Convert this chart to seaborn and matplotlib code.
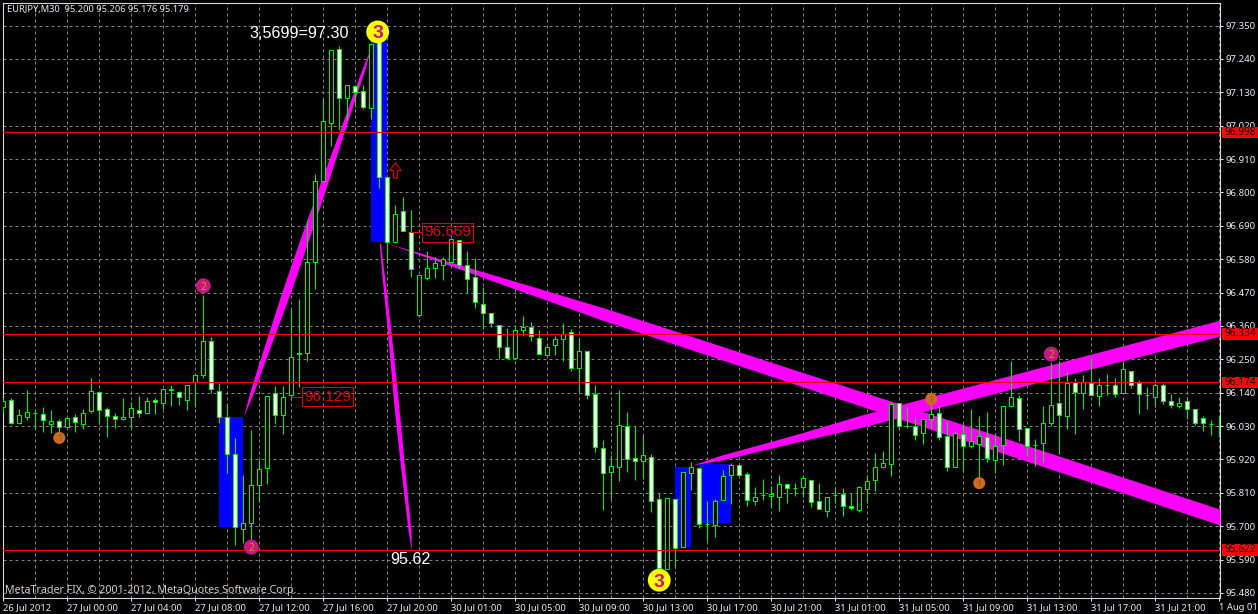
import numpy as np
import matplotlib
matplotlib.use("Agg")
import matplotlib.pyplot as plt
from matplotlib.patches import Rectangle
import seaborn as sns

# candles, one entry per 30 minute bar
high_p = [96.122,96.122,96.086,96.149,96.083,96.093,96.083,96.053,96.060,96.070,96.086,96.187,96.142,96.093,96.073,96.122,96.109,96.129,96.125,96.122,
          96.151,96.164,96.145,96.164,96.197,96.461,96.322,96.171,96.103,95.991,95.869,96.017,95.918,96.129,96.161,96.161,96.415,96.448,96.709,96.861,
          97.108,97.269,97.282,97.154,97.154,97.154,97.289,97.325,96.851,96.759,96.785,96.742,96.527,96.606,96.587,96.587,96.646,96.643,96.606,96.583,
          96.487,96.402,96.362,96.352,96.355,96.392,96.372,96.345,96.299,96.326,96.369,96.349,96.319,96.279,96.164,95.984,95.935,96.149,96.076,96.030,
          96.001,95.938,95.810,95.793,95.790,95.879,95.912,95.892,95.783,95.790,95.885,95.909,95.909,95.879,95.829,95.856,95.833,95.869,95.839,95.843,
          95.866,95.852,95.843,95.796,95.829,95.826,95.810,95.833,95.869,95.941,95.948,96.109,96.106,96.093,96.057,96.053,96.116,96.096,96.047,96.011,
          96.040,96.086,96.063,96.076,96.007,96.096,96.243,96.132,96.024,95.988,96.096,96.240,96.246,96.207,96.190,96.197,96.253,96.190,96.200,96.187,
          96.246,96.213,96.181,96.158,96.171,96.171,96.135,96.125,96.125,96.086,96.063,96.050,96.063]
open_p = [96.093,96.116,96.040,96.060,96.073,96.070,96.037,96.047,96.027,96.060,96.037,96.080,96.142,96.086,96.063,96.053,96.060,96.083,96.073,96.116,
          96.106,96.151,96.142,96.116,96.174,96.197,96.309,96.145,96.060,95.938,95.691,95.711,95.836,95.892,96.139,96.067,96.132,96.266,96.272,96.570,
          96.838,97.029,97.272,97.111,97.151,97.134,97.078,97.325,96.851,96.636,96.739,96.669,96.395,96.517,96.550,96.560,96.570,96.643,96.560,96.520,
          96.432,96.402,96.362,96.292,96.253,96.345,96.355,96.319,96.263,96.296,96.316,96.339,96.223,96.276,96.135,95.958,95.879,95.895,96.030,95.925,
          95.915,95.928,95.790,95.559,95.790,95.631,95.876,95.892,95.707,95.704,95.786,95.869,95.902,95.872,95.783,95.803,95.800,95.796,95.839,95.826,
          95.829,95.852,95.783,95.750,95.803,95.806,95.767,95.753,95.823,95.852,95.895,95.905,96.106,96.030,96.030,96.007,96.053,96.073,95.998,95.895,
          96.004,95.965,95.971,95.994,95.918,95.968,96.096,96.122,96.024,95.968,95.974,96.040,96.106,96.063,96.174,96.139,96.171,96.129,96.164,96.167,
          96.139,96.213,96.171,96.132,96.125,96.164,96.113,96.096,96.113,96.086,96.057,96.037,96.030]
close_p = [96.113,96.040,96.067,96.076,96.073,96.050,96.047,96.027,96.057,96.043,96.073,96.145,96.083,96.063,96.053,96.060,96.090,96.073,96.113,96.109,
           96.151,96.149,96.125,96.164,96.197,96.309,96.151,96.060,95.938,95.697,95.711,95.836,95.889,96.129,96.067,96.125,96.256,96.272,96.570,96.838,
           97.035,97.269,97.111,97.154,97.131,97.081,97.289,96.851,96.636,96.729,96.673,96.547,96.527,96.550,96.567,96.580,96.646,96.560,96.514,96.438,
           96.402,96.369,96.292,96.253,96.345,96.355,96.326,96.269,96.289,96.316,96.335,96.223,96.276,96.132,95.961,95.876,95.899,96.034,95.922,95.915,
           95.935,95.783,95.562,95.793,95.628,95.879,95.895,95.707,95.707,95.783,95.866,95.902,95.869,95.786,95.796,95.803,95.806,95.839,95.826,95.826,
           95.859,95.780,95.757,95.796,95.803,95.767,95.760,95.829,95.849,95.895,95.909,96.103,96.030,96.030,96.001,96.053,96.070,95.994,95.895,96.007,
           95.965,95.981,95.998,95.925,95.965,96.096,96.125,96.020,95.965,95.968,96.040,96.100,96.067,96.171,96.142,96.174,96.132,96.167,96.164,96.135,
           96.217,96.167,96.135,96.132,96.164,96.113,96.100,96.106,96.086,96.040,96.040,96.037,96.030]
low_p = [96.073,96.037,96.037,96.050,96.020,96.011,96.007,96.007,96.027,96.011,96.020,96.073,96.037,95.994,96.024,96.050,96.024,96.060,96.070,96.070,
         96.086,96.096,96.100,96.083,96.093,96.190,96.139,96.040,95.876,95.638,95.644,95.638,95.780,95.839,96.037,96.004,96.116,96.158,96.246,96.481,
         96.838,96.953,97.006,97.039,97.081,97.075,97.042,96.815,96.567,96.633,96.673,96.520,96.388,96.510,96.517,96.510,96.570,96.547,96.468,96.418,
         96.349,96.355,96.250,96.250,96.253,96.326,96.312,96.266,96.263,96.263,96.243,96.210,96.145,96.119,95.945,95.753,95.790,95.849,95.879,95.852,
         95.856,95.747,95.555,95.559,95.562,95.631,95.819,95.694,95.651,95.664,95.786,95.773,95.869,95.767,95.770,95.786,95.763,95.750,95.777,95.800,
         95.796,95.763,95.757,95.730,95.777,95.734,95.753,95.747,95.777,95.816,95.892,95.866,96.017,96.024,95.984,95.971,96.024,95.984,95.882,95.895,
         95.879,95.958,95.829,95.912,95.876,95.902,96.093,95.981,95.932,95.899,95.912,96.030,95.938,96.020,96.004,96.086,96.132,96.096,96.132,96.125,
         96.139,96.154,96.070,96.086,96.093,96.103,96.090,96.090,96.053,96.034,96.014,96.001,95.994]

# axis labels
y_ticks = [97.35,97.24,97.13,97.02,96.91,96.80,96.69,96.58,96.47,96.36,96.25,96.14,96.03,95.92,95.81,95.70,95.59,95.48]
x_labels = ["26 Jul 2012","27 Jul 00:00","27 Jul 04:00","27 Jul 08:00","27 Jul 12:00","27 Jul 16:00","27 Jul 20:00",
            "30 Jul 01:00","30 Jul 05:00","30 Jul 09:00","30 Jul 13:00","30 Jul 17:00","30 Jul 21:00",
            "31 Jul 01:00","31 Jul 05:00","31 Jul 09:00","31 Jul 13:00","31 Jul 17:00","31 Jul 21:00","1 Aug 01:00"]

# horizontal levels
levels = [96.998, 96.334, 96.174, 95.622]

# blue boxes
box_start = [27, 46, 84, 87]
box_end = [30, 48, 86, 91]
box_top = [96.060, 97.300, 95.895, 95.905]
box_bottom = [95.697, 96.636, 95.631, 95.711]

# steep magenta legs, edges given in bars per price
leg1_price = [96.060,96.149,96.258,96.478,96.676,96.851,96.982,97.203,97.289]
leg1_left = [30.0,30.9,32.2,34.9,37.5,39.9,41.75,44.8,46.1]
leg1_right = [30.0,31.4,32.9,36.0,38.6,40.8,42.4,45.15,46.1]
leg2_price = [96.633,96.534,96.346,96.106,95.885,95.687,95.618]
leg2_left = [47.0,47.3,48.0,48.8,49.7,50.6,51.0]
leg2_right = [47.15,47.6,48.45,49.4,50.2,50.95,51.0]

# long magenta ribbons, edges given in price per bar
down_bars = [48, 75, 125, 152.1]
down_upper = [96.633, 96.420, 95.992, 95.756]
down_lower = [96.633, 96.378, 95.940, 95.704]
up_bars = [86.2, 89.6, 99.6, 107.1, 124.6, 152.1]
up_upper = [95.902, 95.933, 96.006, 96.065, 96.188, 96.379]
up_lower = [95.902, 95.917, 95.980, 96.025, 96.142, 96.327]

# numbered wave markers
yellow_bars = [46.8, 82]
yellow_prices = [97.329, 95.522]
orange_bars = [7, 122, 116]
orange_prices = [95.991, 95.842, 96.119]
pink_bars = [31, 131, 25]
pink_prices = [95.631, 96.267, 96.492]

sns.set_theme(style="dark", rc={"axes.facecolor": "black", "figure.facecolor": "black"})
plt.rcParams["font.family"] = ["Noto Sans", "DejaVu Sans"]

GREEN = "#00ee00"
RED = "#ff0000"
MAGENTA = "#ff00ff"
LABEL = "#e6edf5"

fig = plt.figure(figsize=(12.58, 6.14), dpi=100)
ax = fig.add_axes([2.5 / 1258, 1 - 597.5 / 614, 1217.5 / 1258, 595 / 614])
ax.set_xlim(-0.1, 152.1)
ax.set_ylim(95.465, 97.426)

# grid
ax.set_xticks(np.arange(0, 153, 4), minor=True)
ax.set_xticks(np.arange(0, 153, 8), x_labels, ha="left")
ax.set_yticks(y_ticks, [f"{v:.3f}" for v in y_ticks])
ax.yaxis.tick_right()
ax.grid(True, which="both", axis="x", color="#808080", linestyle=(0, (3, 3)), linewidth=0.72, zorder=1)
ax.grid(True, which="major", axis="y", color="#808080", linestyle=(0, (3, 3)), linewidth=0.72, zorder=1)
ax.set_axisbelow(True)
ax.tick_params(axis="x", which="major", colors=LABEL, labelsize=6.8, length=2.2, width=0.72, pad=1.5, bottom=True)
ax.tick_params(axis="x", which="minor", length=0)
ax.tick_params(axis="y", colors=LABEL, labelsize=6.9, length=2.2, width=0.72, pad=1.5, right=True)
for spine in ax.spines.values():
    spine.set_color("#d8d8d8")
    spine.set_linewidth(0.8)

# blue boxes, then magenta waves
for s, e, t, b in zip(box_start, box_end, box_top, box_bottom):
    ax.fill_between([s, e], [t, t], [b, b], color="#0000ff", linewidth=0, zorder=2)
ax.fill_betweenx(leg1_price, leg1_left, leg1_right, color=MAGENTA, linewidth=0, zorder=3)
ax.fill_betweenx(leg2_price, leg2_left, leg2_right, color=MAGENTA, linewidth=0, zorder=3)
ax.fill_between(down_bars, down_upper, down_lower, color=MAGENTA, linewidth=0, zorder=3)
ax.fill_between(up_bars, up_upper, up_lower, color=MAGENTA, linewidth=0, zorder=3)

# candles
bars = np.arange(len(open_p))
opens = np.array(open_p)
closes = np.array(close_p)
ax.vlines(bars, low_p, high_p, color=GREEN, linewidth=0.75, zorder=4)
body_colors = ["white" if c < o else "black" for o, c in zip(opens, closes)]
ax.bar(bars, np.abs(closes - opens), bottom=np.minimum(opens, closes), width=0.5,
       color=body_colors, edgecolor=GREEN, linewidth=0.75, zorder=4.5)

# levels and their red price tags
trans = ax.get_yaxis_transform()
for level in levels:
    ax.axhline(level, color=RED, linewidth=0.85, zorder=5)
    ax.add_patch(Rectangle((1.0016, level - 0.019), 0.03, 0.038, transform=trans, color=RED,
                           clip_on=False, zorder=8, linewidth=0))
    ax.text(1.0165, level, f"{level:.3f}", transform=trans, color="#000000", fontsize=7.3,
            ha="center", va="center", zorder=9)

# wave markers
sns.scatterplot(x=yellow_bars, y=yellow_prices, s=270, color="#ffff00", edgecolor="none", ax=ax, zorder=6, legend=False)
sns.scatterplot(x=orange_bars, y=orange_prices, s=75, color="#d2691e", edgecolor="none", ax=ax, zorder=6, legend=False)
sns.scatterplot(x=pink_bars, y=pink_prices, s=117, color="#c71585", edgecolor="none", ax=ax, zorder=6, legend=False)
for x, y in zip(yellow_bars, yellow_prices):
    ax.text(x, y, "3", color="#c71585", fontsize=14, fontweight="bold", family="Liberation Sans",
            ha="center", va="center_baseline", zorder=7)
for x, y in zip(orange_bars, orange_prices):
    ax.text(x, y, "1", color="#4a7a20", fontsize=6.5, ha="center", va="center_baseline", zorder=7)
for x, y in zip(pink_bars, pink_prices):
    ax.text(x, y, "2", color="#d09030", fontsize=7.5, ha="center", va="center_baseline", zorder=7)

# boxed price notes
box_style = dict(facecolor="none", edgecolor="#e00000", linewidth=0.8, pad=1.6)
ax.plot([36, 37.4], [96.127, 96.127], color="#e00000", linewidth=0.8, zorder=6)
ax.text(37.6, 96.127, "96.129", color="#e00000", fontsize=11.1, family="Liberation Sans", va="center", bbox=box_style, zorder=7)
ax.plot([51, 52.4], [96.668, 96.668], color="#e00000", linewidth=0.8, zorder=6)
ax.text(52.6, 96.668, "96.669", color="#e00000", fontsize=11.1, family="Liberation Sans", va="center", bbox=box_style, zorder=7)

# hollow arrow above the top candle
arrow_shape = [(-0.25, -1), (0.25, -1), (0.25, 0), (0.75, 0), (0, 1), (-0.75, 0), (-0.25, 0), (-0.25, -1)]
ax.plot([49], [96.874], marker=arrow_shape, markersize=11, markerfacecolor="none",
        markeredgecolor="#d00000", markeredgewidth=0.9, linestyle="none", zorder=7)

# other texts
ax.text(30.8, 97.325, "3,5699=97.30", color="white", fontsize=11.6, family="Liberation Sans", va="center", zorder=7)
ax.text(48.4, 95.590, "95.62", color="white", fontsize=11.6, family="Liberation Sans", va="center", zorder=7)
ax.text(0.0035, 0.9885, "EURJPY,M30  95.200 95.206 95.176 95.179", transform=ax.transAxes, color=LABEL,
        fontsize=6.7, va="center", zorder=7)
ax.text(0.002, 0.0125, "MetaTrader FIX, \u00a9 2001-2012, MetaQuotes Software Corp.", transform=ax.transAxes,
        color="#d8cfc0", fontsize=7.7, va="center", zorder=7)

fig.savefig("out.png", dpi=100, facecolor="black")
